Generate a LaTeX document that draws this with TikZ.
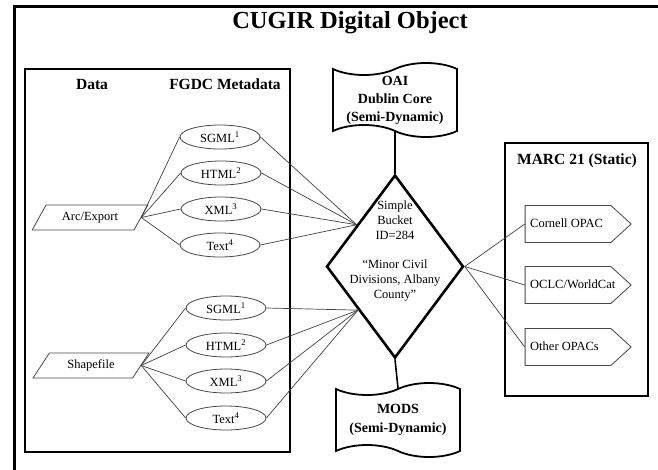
\documentclass[tikz,border=0pt]{standalone}
\usepackage{fontspec}
\setmainfont{Liberation Serif}
\usetikzlibrary{shapes.geometric,shapes.symbols,calc}

\begin{document}
\begin{tikzpicture}[x=1pt,y=-1pt,
  every node/.style={inner sep=0pt},
  body/.style={font=\fontsize{12.5}{14.7}\selectfont},
  hdr/.style={font=\fontsize{15.5}{18}\selectfont\bfseries},
  thin/.style={draw=black!72,line width=0.8pt},
  fmt/.style={thin,ellipse,minimum width=80pt,minimum height=24pt,body},
  datafile/.style={thin,trapezium,trapezium left angle=51,trapezium right angle=129,
    trapezium stretches=true,minimum width=116pt,minimum height=25pt,body},
  opac/.style={thin,signal,signal to=east,signal pointer angle=85,
    minimum width=106pt,minimum height=37pt},
  flag/.style={tape,draw,line width=1.8pt,tape bend top=in and out,
    tape bend bottom=out and in,tape bend height=12pt,minimum width=124pt,
    minimum height=74pt,align=center,font=\fontsize{14}{18}\selectfont\bfseries},
  link/.style={draw=black!75,line width=0.7pt},
  stem/.style={draw,line width=1.6pt}
]
\useasboundingbox (0,0) rectangle (658,469);

% outer frame (only its top and left sides fall inside the page)
\draw[line width=3.5pt,line join=miter] (14.5,475) -- (14.5,6.7) -- (665,6.7);

\node[font=\fontsize{24.5}{28}\selectfont\bfseries,anchor=base] (title) at (350,28) {CUGIR Digital Object};

% data / metadata panel
\draw[line width=1.6pt] (25,69) rectangle (290,452);
\node[hdr,anchor=base] (datahdr) at (92,89) {Data};
\node[hdr,anchor=base] (fgdchdr) at (225,89) {FGDC Metadata};

\node[datafile] (arc) at (90,217.5) {Arc/Export};
\node[fmt] (sgmlA) at (220,137) {SGML\textsuperscript{1}};
\node[fmt] (htmlA) at (221,173) {HTML\textsuperscript{2}};
\node[fmt] (xmlA)  at (221,209) {XML\textsuperscript{3}};
\node[fmt] (textA) at (220,245) {Text\textsuperscript{4}};

\node[datafile] (shp) at (91,365.5) {Shapefile};
\node[fmt] (sgmlB) at (226,308) {SGML\textsuperscript{1}};
\node[fmt] (htmlB) at (226,345) {HTML\textsuperscript{2}};
\node[fmt] (xmlB)  at (226,381) {XML\textsuperscript{3}};
\node[fmt] (textB) at (226,418) {Text\textsuperscript{4}};

% central bucket
\node[diamond,draw,line width=2.6pt,minimum width=137pt,minimum height=183pt] (bucket) at (395,266.5) {};
\node[body,align=center] (buckettext) at (395,251)
  {Simple\\Bucket\\ID=284\\[14.7pt]“Minor Civil\\Divisions, Albany\\County”};
\coordinate (inA) at ($(bucket.west)!0.45!(bucket.north)$);
\coordinate (inB) at ($(bucket.west)!0.47!(bucket.south)$);

% dynamic records
\node[flag] (oai) at (395,100) {OAI\\Dublin Core\\(Semi-Dynamic)};
\node[flag] (mods) at (398,420) {MODS\\[1pt](Semi-Dynamic)};

% MARC panel
\draw[line width=2pt] (505,143) rectangle (648,396);
\node[hdr,anchor=base] (marchdr) at (577,164) {MARC 21 (Static)};
\node[opac] (cornell) at (568,224) {};
\node[opac] (oclc) at (568,285) {};
\node[opac] (other) at (568,347) {};
\node[body,anchor=west] (cornelltext) at (530,223) {Cornell OPAC};
\node[body,anchor=west] (oclctext) at (530,284) {OCLC/WorldCat};
\node[body,anchor=west] (othertext) at (530,346) {Other OPACs};

% connectors
\foreach \f in {sgmlA,htmlA,xmlA,textA} {
  \draw[link] (arc.east) -- (\f.west);
  \draw[link] (\f.east) -- (inA);
}
\foreach \f in {sgmlB,htmlB,xmlB,textB} {
  \draw[link] (shp.east) -- (\f.west);
  \draw[link] (\f.east) -- (inB);
}
\draw[stem] (oai.south) -- (bucket.north);
\draw[stem] (bucket.south) -- (mods.north);
\foreach \o in {cornell,oclc,other}
  \draw[link] (bucket.east) -- (\o.west);
\end{tikzpicture}
\end{document}
